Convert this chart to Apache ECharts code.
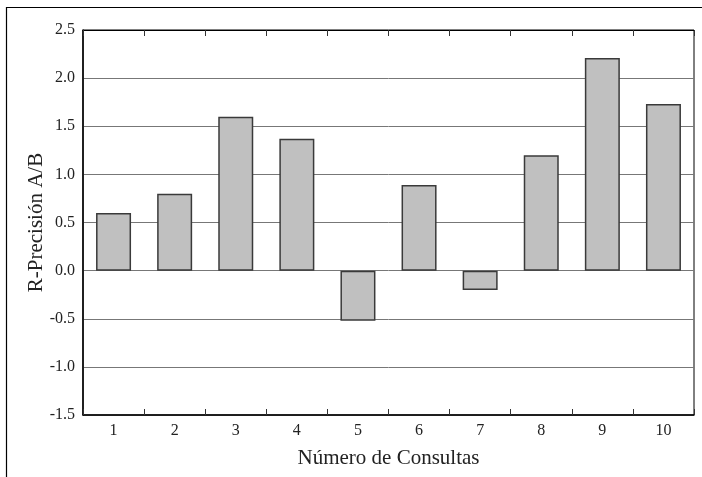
<!DOCTYPE html>
<html><head><meta charset="utf-8">
<script src="https://cdn.jsdelivr.net/npm/echarts@6/dist/echarts.min.js"></script>
<style>html,body{margin:0;padding:0;background:#fff}#c{width:702px;height:477px}</style>
</head><body><div id="c"></div>
<script>
const categories = ['1','2','3','4','5','6','7','8','9','10'];
const values = [0.60, 0.80, 1.60, 1.37, -0.52, 0.89, -0.20, 1.20, 2.21, 1.73];
const yTicks = [-1.5, -1.0, -0.5, 0.0, 0.5, 1.0, 1.5, 2.0, 2.5];

const serif = '"Liberation Serif", "DejaVu Serif", serif';
const chart = echarts.init(document.getElementById('c'));
chart.setOption({
  animation: false,
  graphic: [
    {type: 'line', shape: {x1: 6, y1: 7.5, x2: 702, y2: 7.5}, style: {stroke: '#000', lineWidth: 1.2}},
    {type: 'line', shape: {x1: 6.5, y1: 7, x2: 6.5, y2: 477}, style: {stroke: '#000', lineWidth: 1.2}}
  ],
  grid: {left: 83, right: 8, top: 30, bottom: 62, show: true, borderColor: '#000', borderWidth: 1},
  xAxis: [{
    type: 'category', data: categories, position: 'bottom',
    name: 'Número de Consultas', nameLocation: 'middle', nameGap: 33, nameMoveOverlap: false,
    nameTextStyle: {fontFamily: serif, fontSize: 21, color: '#222'},
    axisLine: {onZero: false, lineStyle: {color: '#000', width: 1.5}},
    axisTick: {show: true, inside: true, length: 6, interval: 0, lineStyle: {color: '#333', width: 1}},
    axisLabel: {fontFamily: serif, fontSize: 16, color: '#222', margin: 8}
  }, {
    type: 'category', data: categories, position: 'top',
    axisLine: {onZero: false, lineStyle: {color: '#000', width: 1}},
    axisTick: {show: true, inside: true, length: 6, interval: 0, lineStyle: {color: '#333', width: 1}},
    axisLabel: {show: false}
  }],
  yAxis: {
    type: 'value', min: yTicks[0], max: yTicks[yTicks.length - 1], interval: 0.5,
    name: 'R-Precisión A/B', nameLocation: 'middle', nameGap: 36, nameMoveOverlap: false,
    nameTextStyle: {fontFamily: serif, fontSize: 21, color: '#222'},
    axisLine: {show: true, lineStyle: {color: '#000', width: 1.5}},
    axisTick: {show: false},
    axisLabel: {fontFamily: serif, fontSize: 16, color: '#222', margin: 8,
      formatter: v => v.toFixed(1)},
    splitLine: {lineStyle: {color: '#777', width: 1}}
  },
  series: [{
    type: 'bar', data: values, barWidth: 35,
    itemStyle: {color: '#c0c0c0', borderColor: '#3a3a3a', borderWidth: 1.5}
  }]
});
</script></body></html>
